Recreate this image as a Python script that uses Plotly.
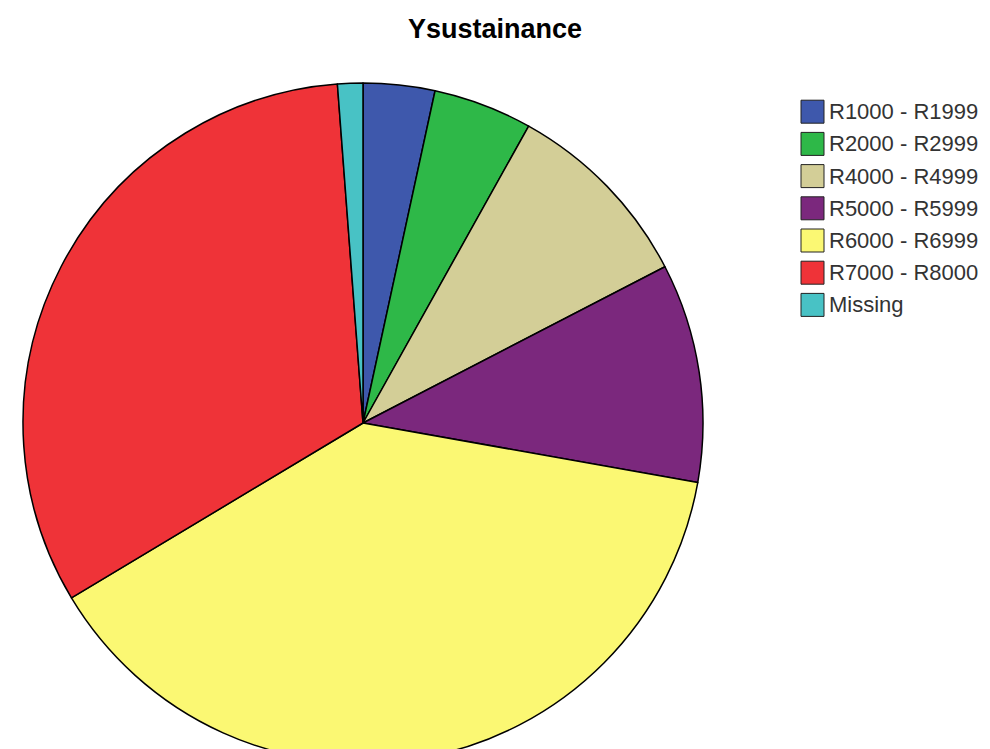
"""Pie chart: Ysustainance income bands."""
import plotly.graph_objects as go

W, H = 974, 755
OFF = 8  # page body margin that shifts the figure on screen

# data (percent of respondents)
categories = [
    "R1000 - R1999",
    "R2000 - R2999",
    "R4000 - R4999",
    "R5000 - R5999",
    "R6000 - R6999",
    "R7000 - R8000",
    "Missing",
]
percent = [3.4, 4.7, 9.3, 10.4, 38.6, 32.4, 1.2]

# SPSS-style default palette
colors = ["#3E58AC", "#2EB848", "#D3CE97", "#7B287D", "#FBF873", "#EF3338", "#48C2C5"]

# pie placement (screen pixels)
cx, cy, r = 363 - OFF, 423 - OFF, 340

fig = go.Figure(
    go.Pie(
        labels=categories,
        values=percent,
        sort=False,
        direction="clockwise",
        rotation=0,
        textinfo="none",
        hoverinfo="label+percent",
        showlegend=False,
        marker=dict(colors=colors, line=dict(color="#000000", width=1.5)),
        domain=dict(
            x=[(cx - r) / W, (cx + r) / W],
            y=[(H - cy - r) / H, (H - cy + r) / H],
        ),
    )
)

# legend block like the SPSS output: big swatches, one row per category
lx, ly0, step, sw = 801 - OFF, 111.7 - OFF, 32.2, 23
for i, (name, col) in enumerate(zip(categories, colors)):
    yc = ly0 + i * step
    fig.add_shape(
        type="rect",
        xref="paper", yref="paper",
        x0=lx / W, x1=(lx + sw) / W,
        y0=1 - (yc + sw / 2) / H, y1=1 - (yc - sw / 2) / H,
        fillcolor=col,
        line=dict(color="#222222", width=1),
    )
    fig.add_annotation(
        text=name,
        xref="paper", yref="paper",
        x=(lx + sw + 3) / W, y=1 - yc / H,
        xanchor="left", yanchor="middle",
        showarrow=False,
        font=dict(family="Liberation Sans, Arial", size=22, color="#333333"),
    )

fig.update_layout(
    width=W,
    height=H,
    margin=dict(l=0, r=0, t=0, b=0),
    paper_bgcolor="white",
    plot_bgcolor="white",
    title=dict(
        text="<b>Ysustainance</b>",
        x=(495 - OFF) / W,
        xanchor="center",
        y=1 - (29 - OFF) / H,
        yanchor="middle",
        yref="container",
        font=dict(family="Liberation Sans, Arial", size=27, color="#000000"),
    ),
)

fig.write_html("out.html")
